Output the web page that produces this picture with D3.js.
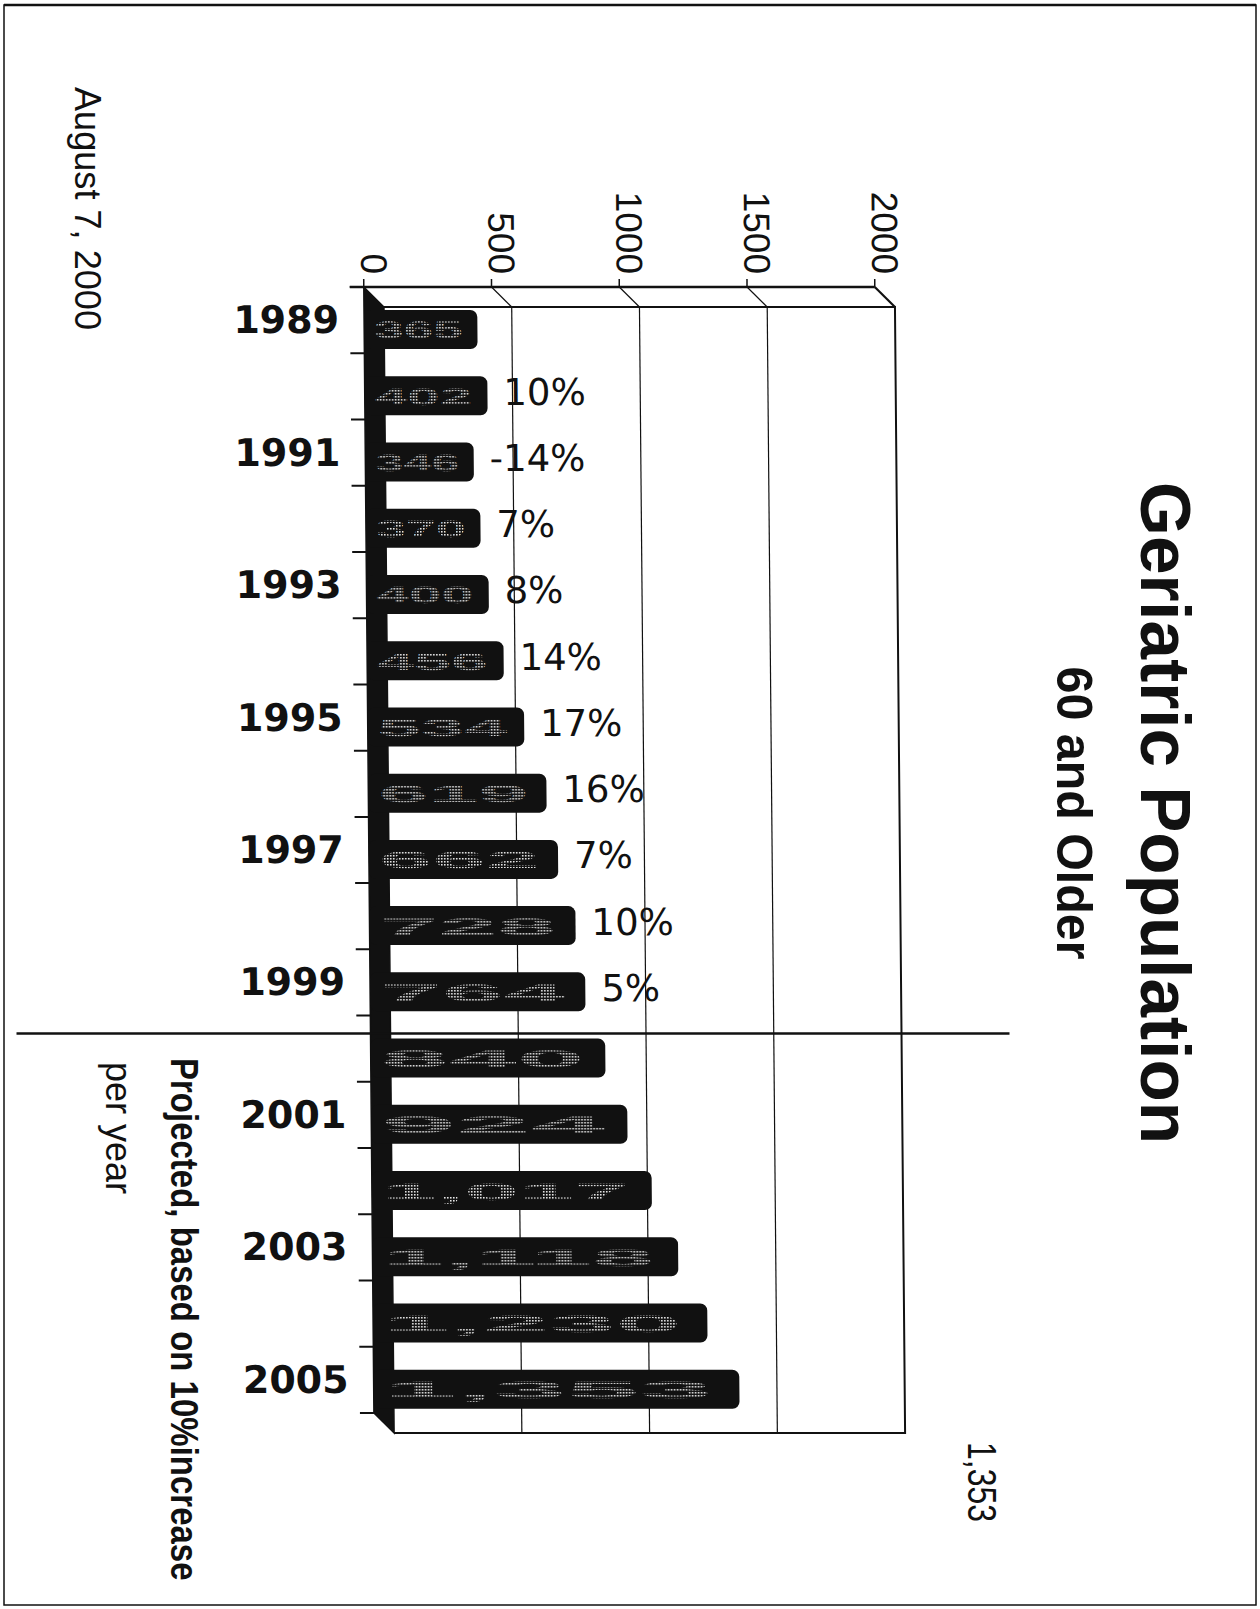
<!DOCTYPE html>
<html>
<head>
<meta charset="utf-8">
<script src="https://cdn.jsdelivr.net/npm/d3@7"></script>
<style>
  body { margin: 0; background: #fff; }
  svg { display: block; }
</style>
</head>
<body>
<svg width="1260" height="1609"></svg>
<script>
var years = [1989, 1990, 1991, 1992, 1993, 1994, 1995, 1996, 1997, 1998, 1999, 2000, 2001, 2002, 2003, 2004, 2005];
// population 60+ (2000-2005 projected at +10%/yr)
var population = [365, 402, 346, 370, 400, 456, 534, 619, 662, 728, 764, 840, 924, 1017, 1118, 1230, 1353];
var changeYears = [1990, 1991, 1992, 1993, 1994, 1995, 1996, 1997, 1998, 1999];
var changeLabels = ["10%", "-14%", "7%", "8%", "14%", "17%", "16%", "7%", "10%", "5%"];
var yearLabels = [1989, 1991, 1993, 1995, 1997, 1999, 2001, 2003, 2005];
var valueTicks = [0, 500, 1000, 1500, 2000];

var svg = d3.select("svg"),
    width = +svg.attr("width"),
    height = +svg.attr("height");

var ink = "#111";
var depthX = 20, depthY = 20;   // offset of back wall from front edge

// speckle fill for the (badly printed) value labels
var pat = svg.append("defs").append("pattern")
    .attr("id", "speckle")
    .attr("patternUnits", "userSpaceOnUse")
    .attr("width", 3).attr("height", 3);
pat.append("rect").attr("width", 1.6).attr("height", 1.6).attr("fill", "#e6e6e6");

// value scale on the back wall, band scale on the front edge
var x = d3.scaleLinear().domain([0, 2000]).range([392, 903]);
var front = function(v) { return x(v) - depthX; };
var y = d3.scaleBand().domain(years).range([287, 1413]);
var yTop = y.range()[0], yBot = y.range()[1];

// page frame
svg.append("rect")
    .attr("x", 4).attr("y", 5).attr("width", 1252).attr("height", 1600)
    .attr("fill", "none").attr("stroke", ink).attr("stroke-width", 1.5);
svg.append("line")
    .attr("x1", 4).attr("x2", 1256).attr("y1", 5).attr("y2", 5)
    .attr("stroke", ink).attr("stroke-width", 2.5);

// the scan leans a little, so the chart is sheared slightly
var k = 0.009;
var chart = svg.append("g")
    .attr("transform", "matrix(1,0," + k + ",1," + (-1200 * k) + ",0)");

// back wall gridlines
chart.append("g").selectAll("line")
    .data(valueTicks.slice(1, 4))
    .enter().append("line")
      .attr("x1", function(d) { return x(d); }).attr("x2", function(d) { return x(d); })
      .attr("y1", yTop + depthY).attr("y2", yBot + depthY)
      .attr("stroke", ink).attr("stroke-width", 1.2);

// side wall diagonals
chart.append("g").selectAll("line")
    .data(valueTicks.slice(1))
    .enter().append("line")
      .attr("x1", function(d) { return front(d); }).attr("y1", yTop)
      .attr("x2", function(d) { return x(d); }).attr("y2", yTop + depthY)
      .attr("stroke", ink).attr("stroke-width", function(d) { return d == 2000 ? 2.2 : 1.2; });

// back wall outline
chart.append("path")
    .attr("d", "M" + x(0) + "," + (yTop + depthY) + "H" + x(2000) + "V" + (yBot + depthY) + "H" + x(0))
    .attr("fill", "none").attr("stroke", ink).attr("stroke-width", 2);

// front value axis
chart.append("line")
    .attr("x1", front(0) - 14).attr("x2", front(2000))
    .attr("y1", yTop).attr("y2", yTop)
    .attr("stroke", ink).attr("stroke-width", 2.5);

chart.append("g").selectAll("line")
    .data(valueTicks)
    .enter().append("line")
      .attr("x1", function(d) { return front(d); }).attr("x2", function(d) { return front(d); })
      .attr("y1", yTop - 8).attr("y2", yTop)
      .attr("stroke", ink).attr("stroke-width", 1.5);

chart.append("g").selectAll("text")
    .data(valueTicks)
    .enter().append("text")
      .attr("transform", function(d) { return "translate(" + (front(d) + 10) + "," + (yTop - 13) + ") rotate(90)"; })
      .attr("text-anchor", "end")
      .attr("dominant-baseline", "central")
      .attr("font-family", "'Liberation Sans', Arial, sans-serif")
      .attr("font-size", 37)
      .attr("fill", ink)
      .text(function(d) { return d; });

// floor (dark wall down the left)
chart.append("path")
    .attr("d", "M" + front(0) + "," + yTop + "L" + x(0) + "," + (yTop + depthY) +
               "V" + (yBot + depthY) + "L" + front(0) + "," + yBot + "Z")
    .attr("fill", ink).attr("stroke", ink).attr("stroke-width", 1.5);

// category ticks on band edges
var edges = years.map(function(d) { return y(d); }).concat([yBot]);
chart.append("g").selectAll("line")
    .data(edges)
    .enter().append("line")
      .attr("x1", front(0) - 14).attr("x2", front(0))
      .attr("y1", function(d) { return d; }).attr("y2", function(d) { return d; })
      .attr("stroke", ink).attr("stroke-width", 2);

// bars
var bars = chart.append("g").selectAll("g")
    .data(years.map(function(d, i) { return {year: d, value: population[i]}; }))
    .enter().append("g");

bars.append("rect")
    .attr("x", front(0))
    .attr("y", function(d) { return y(d.year) + 23; })
    .attr("width", function(d) { return x(d.value) - front(0); })
    .attr("height", 39)
    .attr("rx", 7)
    .attr("fill", ink);

// value labels inside the bars (speckled in the scan)
bars.append("text")
    .attr("x", x(0) - 10)
    .attr("y", function(d) { return y(d.year) + 43; })
    .attr("dominant-baseline", "central")
    .attr("textLength", function(d) { return (x(d.value) - x(0)) * 0.95; })
    .attr("lengthAdjust", "spacingAndGlyphs")
    .attr("font-family", "'Liberation Sans', Arial, sans-serif")
    .attr("font-weight", "bold")
    .attr("font-size", 24)
    .attr("fill", "url(#speckle)")
    .text(function(d) { return d3.format(",")(d.value); });

// year labels
chart.append("g").selectAll("text")
    .data(yearLabels)
    .enter().append("text")
      .attr("x", 347)
      .attr("y", function(d) { return y(d) + y.bandwidth() / 2; })
      .attr("dominant-baseline", "central")
      .attr("text-anchor", "end")
      .attr("font-family", "'DejaVu Sans', sans-serif")
      .attr("font-weight", "bold")
      .attr("font-size", 38)
      .attr("fill", ink)
      .text(function(d) { return d; });

// year-on-year change labels
chart.append("g").selectAll("text")
    .data(changeYears)
    .enter().append("text")
      .attr("x", function(d) { return x(population[years.indexOf(d)]) + 16; })
      .attr("y", function(d) { return y(d) + 39; })
      .attr("dominant-baseline", "central")
      .attr("font-family", "'DejaVu Sans', sans-serif")
      .attr("font-size", 37)
      .attr("fill", ink)
      .text(function(d, i) { return changeLabels[i]; });

// actual / projected divider
chart.append("line")
    .attr("x1", 18).attr("x2", 1011)
    .attr("y1", y(2000) + depthY - 2).attr("y2", y(2000) + depthY - 2)
    .attr("stroke", ink).attr("stroke-width", 2.5);

// rotated page texts
function rotText(px, py, anchor) {
  return svg.append("text")
      .attr("transform", "translate(" + px + "," + py + ") rotate(90)")
      .attr("text-anchor", anchor)
      .attr("font-family", "'Liberation Sans', Arial, sans-serif")
      .attr("fill", ink);
}

rotText(1141, 813, "middle")
    .attr("font-size", 70).attr("font-weight", "bold")
    .attr("textLength", 662).attr("lengthAdjust", "spacingAndGlyphs")
    .text("Geriatric Population");

rotText(1057, 813, "middle")
    .attr("font-size", 50).attr("font-weight", "bold")
    .attr("textLength", 293).attr("lengthAdjust", "spacingAndGlyphs")
    .text("60 and Older");

rotText(75, 87, "start")
    .attr("font-size", 36)
    .attr("textLength", 243).attr("lengthAdjust", "spacingAndGlyphs")
    .text("August 7, 2000");

// narrow bold note: taller glyphs via a vertical stretch, length kept on the page
rotText(171, 1058, "start")
    .attr("transform", "translate(171,1058) rotate(90) scale(1,1.18)")
    .attr("font-size", 33).attr("font-weight", "bold")
    .text("Projected, based on 10%increase");

rotText(106, 1062, "start")
    .attr("font-size", 36)
    .text("per year");

rotText(968, 1442, "start")
    .attr("font-size", 40)
    .attr("textLength", 80).attr("lengthAdjust", "spacingAndGlyphs")
    .text("1,353");
</script>
</body>
</html>
